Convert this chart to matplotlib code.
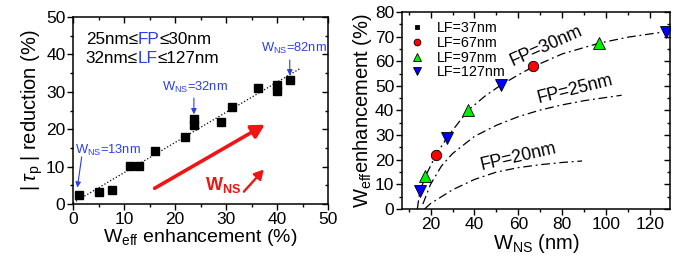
import matplotlib
matplotlib.use("Agg")
import matplotlib.pyplot as plt
from matplotlib.ticker import MultipleLocator

plt.rcParams["font.family"] = ["Liberation Sans", "DejaVu Sans"]
plt.rcParams["mathtext.fontset"] = "custom"
plt.rcParams["mathtext.rm"] = "Liberation Sans"
plt.rcParams["mathtext.it"] = "Liberation Sans:italic"
plt.rcParams["mathtext.bf"] = "Liberation Sans:bold"

BLUE = "#2b3fe6"
RED = "#f01414"

# left panel: |tau_p| reduction vs W_eff enhancement
weff_enh = [1.1, 5.1, 7.6, 11.2, 13.0, 16.1, 22.0, 23.7, 23.7, 29.0, 31.1, 36.3, 39.9, 39.9, 42.5]
tau_red = [2.4, 3.1, 3.7, 10.2, 10.1, 14.2, 17.8, 21.1, 22.6, 22.0, 26.0, 30.9, 31.8, 30.2, 33.1]
fit_x = [0.0, 44.5]
fit_y = [0.3, 36.2]

# right panel: W_eff enhancement vs W_NS, grouped by LF
lf37_x, lf37_y = [], []
lf67_x, lf67_y = [22.5, 66.8], [22.1, 57.9]
lf97_x, lf97_y = [17.5, 37.2, 96.6], [13.3, 40.1, 67.4]
lf127_x, lf127_y = [15.0, 27.3, 52.1, 127.0], [7.4, 28.8, 50.2, 71.9]

fp30_x = [14, 15, 17.5, 22.5, 27.5, 37, 45, 52, 60, 67, 80, 97, 110, 127]
fp30_y = [0, 6.5, 13.0, 22.0, 29.0, 40.0, 46.0, 50.3, 54.5, 57.9, 63.0, 67.4, 69.8, 72.0]
fp25_x = [16.5, 20, 25, 30, 40, 50, 60, 70, 80, 90, 100, 107]
fp25_y = [2.0, 10.0, 17.5, 22.5, 29.5, 34.0, 37.5, 40.2, 42.3, 44.0, 45.3, 46.2]
fp20_x = [17.3, 20, 25, 30, 40, 50, 60, 70, 80, 89]
fp20_y = [0, 2.2, 5.0, 7.8, 12.0, 15.0, 16.8, 18.0, 18.9, 19.5]


def style_axes(ax, xmaj, xmin, ymaj, ymin):
    ax.xaxis.set_major_locator(MultipleLocator(xmaj))
    ax.xaxis.set_minor_locator(MultipleLocator(xmin))
    ax.yaxis.set_major_locator(MultipleLocator(ymaj))
    ax.yaxis.set_minor_locator(MultipleLocator(ymin))
    ax.tick_params(which="major", direction="out", length=4, width=1, labelsize=12.5, pad=1.5)
    ax.tick_params(which="minor", direction="out", length=2.5, width=1)
    for s in ax.spines.values():
        s.set_linewidth(1.1)
    # inward ticks on top and right, like the Origin default
    top = ax.secondary_xaxis("top")
    right = ax.secondary_yaxis("right")
    top.xaxis.set_major_locator(MultipleLocator(xmaj))
    top.xaxis.set_minor_locator(MultipleLocator(xmin))
    right.yaxis.set_major_locator(MultipleLocator(ymaj))
    right.yaxis.set_minor_locator(MultipleLocator(ymin))
    for sec in (top, right):
        sec.tick_params(which="major", direction="in", length=4, width=1,
                        labeltop=False, labelright=False)
        sec.tick_params(which="minor", direction="in", length=2.5, width=1)
        sec.spines[:].set_visible(False)


fig = plt.figure(figsize=(6.73, 2.57), dpi=100)

# ---------------- left panel ----------------
ax1 = fig.add_axes([0.1085, 0.2062, 0.3789, 0.7276])
ax1.plot(fit_x, fit_y, ls=":", color="black", lw=0.9)
ax1.plot(weff_enh, tau_red, "s", color="black", ms=6, ls="none")
ax1.set_xlim(0, 50)
ax1.set_ylim(0, 50)
style_axes(ax1, 10, 5, 10, 5)
ax1.set_xlabel(r"W$_{\mathrm{eff}}$ enhancement (%)", fontsize=14, labelpad=0)
ax1.set_ylabel(r"|$\;\tau_{\mathrm{p}}\;$| reduction (%)", fontsize=14.5, labelpad=1)

t = ax1.text(2.5, 44, "25nm\u2264", fontsize=12.3, va="center")
t = ax1.annotate("FP", xycoords=t, xy=(1, 0), va="bottom", fontsize=12.3, color=BLUE)
ax1.annotate("\u226430nm", xycoords=t, xy=(1, 0), va="bottom", fontsize=12.3)
t = ax1.text(2.5, 39, "32nm\u2264", fontsize=12.3, va="center")
t = ax1.annotate("LF", xycoords=t, xy=(1, 0), va="bottom", fontsize=12.3, color=BLUE)
ax1.annotate("\u2264127nm", xycoords=t, xy=(1, 0), va="bottom", fontsize=12.3)

blue_arrow = dict(arrowstyle="-|>", color=BLUE, lw=0.8, mutation_scale=8, shrinkA=0, shrinkB=0)
ax1.text(0.3, 14.4, r"W$_{\mathrm{NS}}$=13nm", color=BLUE, fontsize=9.3, va="center")
ax1.annotate("", xy=(0.85, 4.4), xytext=(1.7, 12.6), arrowprops=blue_arrow)
ax1.text(17.5, 31.1, r"W$_{\mathrm{NS}}$=32nm", color=BLUE, fontsize=9.3, va="center")
ax1.annotate("", xy=(23.7, 24.0), xytext=(23.7, 28.3), arrowprops=blue_arrow)
ax1.text(36.8, 41.7, r"W$_{\mathrm{NS}}$=82nm", color=BLUE, fontsize=9.3, va="center")
ax1.annotate("", xy=(42.5, 34.4), xytext=(42.5, 38.5), arrowprops=blue_arrow)

ax1.annotate("", xy=(37.6, 21.2), xytext=(16.0, 4.2),
             arrowprops=dict(arrowstyle="-|>,head_length=0.55,head_width=0.3",
                             color=RED, lw=2.6, mutation_scale=14, shrinkA=0, shrinkB=0))
ax1.annotate("", xy=(37.4, 9.2), xytext=(33.5, 3.3),
             arrowprops=dict(arrowstyle="-|>,head_length=0.5,head_width=0.28",
                             color=RED, lw=1.7, mutation_scale=11, shrinkA=0, shrinkB=0))
ax1.text(25.8, 5.1, r"$\mathbf{W_{NS}}$", color=RED, fontsize=13, va="center")

# ---------------- right panel ----------------
ax2 = fig.add_axes([0.5973, 0.1868, 0.3982, 0.7665])
for xs, ys in ((fp30_x, fp30_y), (fp25_x, fp25_y), (fp20_x, fp20_y)):
    ax2.plot(xs, ys, color="black", lw=0.9, dashes=(7, 3, 1.5, 3))
mk = dict(ls="none", markeredgecolor="black", markeredgewidth=0.6)
ax2.plot(lf37_x, lf37_y, "s", color="black", ms=5, label="LF=37nm", **mk)
ax2.plot(lf67_x, lf67_y, "o", color="#ff0000", ms=7.5, label="LF=67nm", **mk)
ax2.plot(lf97_x, lf97_y, "^", color="#00ee00", ms=8.5, label="LF=97nm", **mk)
ax2.plot(lf127_x, lf127_y, "v", color="#0000ff", ms=8.5, label="LF=127nm", **mk)
ax2.set_xlim(7, 129)
ax2.set_ylim(0, 80)
style_axes(ax2, 20, 10, 10, 5)
ax2.set_xlabel(r"W$_{\mathrm{NS}}$ (nm)", fontsize=14.5, labelpad=0)
ax2.set_ylabel(r"W$_{\mathrm{eff}}$enhancement (%)", fontsize=14.5, labelpad=1)

leg = ax2.legend(loc="upper left", frameon=False, fontsize=10.3, handlelength=0.8,
                 handletextpad=1.0, labelspacing=0.05, borderaxespad=0.1, borderpad=0.55,
                 markerscale=0.65)

ax2.text(72.5, 66.3, "FP=30nm", fontsize=12.8, rotation=24, ha="center", va="center")
ax2.text(85.6, 48.5, "FP=25nm", fontsize=12.8, rotation=14, ha="center", va="center")
ax2.text(60, 21.3, "FP=20nm", fontsize=12.8, rotation=13, ha="center", va="center")

fig.savefig("out.png", dpi=100)
